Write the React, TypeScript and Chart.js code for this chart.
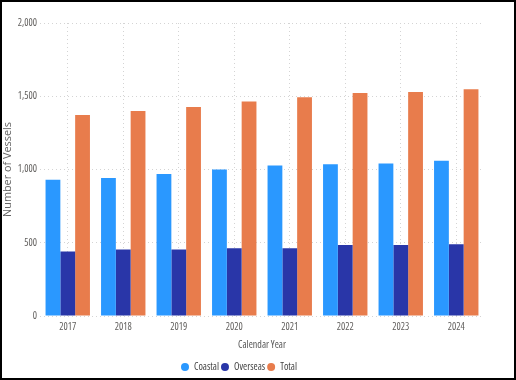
import { useEffect, useRef } from 'react';
import { Chart, registerables } from 'chart.js';

Chart.register(...registerables);

const years = ['2017', '2018', '2019', '2020', '2021', '2022', '2023', '2024'];
const coastal = [930, 942, 969, 1000, 1027, 1036, 1041, 1060];
const overseas = [440, 454, 454, 463, 463, 485, 485, 490];
const total = [1372, 1400, 1427, 1465, 1494, 1522, 1529, 1547];
const yMin = 0;
const yMax = 2000;
const yStep = 500;

const TICK = '#605E5C';

type Cand = { family: string; weight?: string };
const candidates: Cand[] = [
  { family: "'Open Sans'", weight: 'condensed' },
  { family: "'Noto Sans'", weight: 'condensed' },
  { family: "'Liberation Sans Narrow'" },
  { family: "'DejaVu Sans Condensed'" },
];

function pickFont(): Cand {
  const c = document.createElement('canvas').getContext('2d') as CanvasRenderingContext2D;
  let best = candidates[candidates.length - 1];
  let bestErr = Infinity;
  for (const cand of candidates) {
    c.font = `${cand.weight ? cand.weight + ' ' : ''}9.5px ${cand.family}, monospace`;
    const w = c.measureText('Calendar Year').width;
    const err = Math.abs(w - 49);
    if (err < bestErr) {
      bestErr = err;
      best = cand;
    }
  }
  return best;
}

function titleSize(): number {
  const c = document.createElement('canvas').getContext('2d') as CanvasRenderingContext2D;
  c.font = "10px 'Open Sans', sans-serif";
  const w = c.measureText('Number of Vessels').width;
  return (10 * 95) / w;
}

const legendShift = {
  id: 'legendShift',
  afterLayout(chart: any) {
    const l = chart.legend;
    if (l) {
      l.left -= 4;
      l.right -= 4;
      l.top += 4;
      l.bottom += 4;
    }
  },
};

export default function App() {
  const ref = useRef<HTMLCanvasElement>(null);
  useEffect(() => {
    document.body.style.margin = '0';
    const f = pickFont();
    const font = (size: number) => ({ family: f.family, weight: f.weight as any, size });
    const ySize = titleSize();
    const chart = new Chart(ref.current as HTMLCanvasElement, {
      type: 'bar',
      data: {
        labels: years,
        datasets: [
          { label: 'Coastal', data: coastal, backgroundColor: '#2A98FF' },
          { label: 'Overseas', data: overseas, backgroundColor: '#2936A8' },
          { label: 'Total', data: total, backgroundColor: '#E87C4C' },
        ],
      },
      options: {
        responsive: false,
        animation: false,
        devicePixelRatio: 1,
        events: [],
        layout: { padding: { left: 0, right: 30, top: 21, bottom: 0 } },
        datasets: { bar: { categoryPercentage: 0.8, barPercentage: 1.0 } },
        plugins: {
          tooltip: { enabled: false },
          legend: {
            position: 'bottom',
            labels: {
              usePointStyle: true,
              pointStyle: 'circle',
              pointStyleWidth: 8,
              boxHeight: 5.7,
              padding: 2,
              color: '#444',
              font: font(10),
            },
          },
        },
        scales: {
          x: {
            grid: { display: true, offset: false, color: '#d4d4d4', drawTicks: false },
            border: { display: false, dash: [1, 3] },
            ticks: { color: TICK, font: font(10), padding: 5 },
            title: {
              display: true,
              text: 'Calendar Year',
              color: '#555',
              font: font(10),
              padding: { top: 0, bottom: 5 },
            },
            afterFit(scale: any) {
              scale.height = 40;
            },
          },
          y: {
            min: yMin,
            max: yMax,
            ticks: { stepSize: yStep, color: TICK, font: font(10), padding: 3 },
            grid: { color: '#d4d4d4', drawTicks: false },
            border: { display: false, dash: [1, 3] },
            title: {
              display: true,
              text: 'Number of Vessels',
              color: '#666',
              font: { family: "'Open Sans', sans-serif", size: ySize, lineHeight: 1 },
              padding: { top: 0, bottom: 0 },
            },
            afterFit(scale: any) {
              scale.width = 38;
            },
          },
        },
      },
      plugins: [legendShift],
    });
    return () => chart.destroy();
  }, []);
  return (
    <div
      style={{
        position: 'absolute',
        left: 0,
        top: 0,
        width: 516,
        height: 380,
        border: '2px solid #000',
        boxSizing: 'border-box',
        background: '#fff',
      }}
    >
      <canvas ref={ref} width={512} height={376} style={{ display: 'block' }} />
    </div>
  );
}
